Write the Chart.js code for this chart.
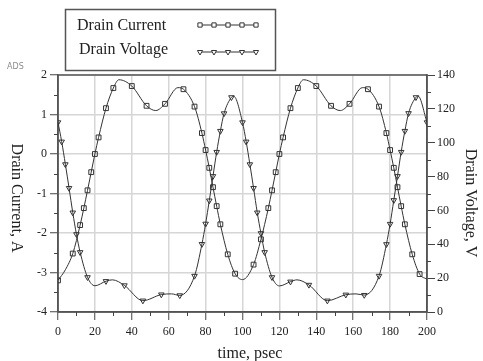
<!DOCTYPE html>
<html>
<head>
<meta charset="utf-8">
<title>Drain current and voltage</title>
<script src="https://cdn.jsdelivr.net/npm/chart.js@4.4.1/dist/chart.umd.min.js"></script>
<style>
  html, body { margin: 0; padding: 0; background: #fff; }
  #wrap { position: relative; width: 483px; height: 361px; }
</style>
</head>
<body>
<div id="wrap"><canvas id="waveChart" width="483" height="361"></canvas></div>
<script>
// Drain current (A) vs time (psec); curMarked = 1 where the simulator put a marker
const curTimes  = [0, 4, 8, 12, 14, 16, 18, 20, 22, 26, 30, 33, 40, 48, 53, 58, 65, 68, 74, 78, 80, 82, 84, 86, 88, 92, 96, 100,
                   106, 110, 114, 116, 118, 120, 122, 126, 130, 133, 140, 148, 153, 158, 165, 168, 174, 178, 180, 182, 184, 186, 188, 192, 196, 200];
const curAmps   = [-3.20, -2.93, -2.52, -1.80, -1.37, -0.92, -0.46, 0.00, 0.42, 1.16, 1.67, 1.88, 1.72, 1.22, 1.10, 1.27, 1.68, 1.64, 1.20, 0.53, 0.10, -0.35, -0.84, -1.32, -1.78, -2.54, -3.03, -3.18,
                   -2.80, -2.16, -1.37, -0.92, -0.46, 0.00, 0.42, 1.16, 1.67, 1.88, 1.72, 1.22, 1.10, 1.27, 1.68, 1.64, 1.20, 0.53, 0.10, -0.35, -0.84, -1.32, -1.78, -2.54, -3.04, -3.17];
const curMarked = [1, 0, 1, 1, 1, 1, 1, 1, 1, 1, 1, 0, 1, 1, 0, 1, 0, 1, 1, 1, 1, 1, 1, 1, 1, 1, 1, 0,
                   1, 1, 1, 1, 1, 1, 1, 1, 1, 0, 1, 1, 0, 1, 0, 1, 1, 1, 1, 1, 1, 1, 1, 1, 1, 0];

// Drain voltage (V) vs time (psec)
const voltTimes  = [0, 2, 4, 6, 8, 10, 12, 16, 20, 26, 29.5, 36, 46, 56, 61.5, 66, 74, 78, 80, 82, 84, 86, 88, 90, 94, 95.2,
                    100, 102, 104, 106, 108, 110, 112, 116, 120, 126, 129.5, 136, 146, 156, 161.5, 166, 174, 178, 180, 182, 184, 186, 188, 190, 194, 195.2, 200];
const voltValues = [112, 100.6, 87.2, 73.2, 58.7, 45.9, 35.3, 20.5, 15.5, 18.2, 19.0, 15.7, 6.7, 10.3, 10.7, 9.8, 21.3, 40.1, 52.1, 65.8, 80.2, 94.5, 106.9, 117.3, 126.8, 127.5,
                    112, 100.6, 87.2, 73.2, 58.7, 46.5, 35.3, 20.5, 15.4, 17.9, 19.0, 16.0, 6.7, 10.2, 10.7, 10.0, 21.3, 40.0, 52.0, 66.0, 80.2, 94.5, 106.9, 117.4, 126.8, 127.5, 112];
const voltMarked = [1, 1, 1, 1, 1, 1, 1, 1, 0, 1, 0, 1, 1, 1, 0, 1, 1, 1, 1, 1, 1, 1, 1, 1, 1, 0,
                    1, 1, 1, 1, 1, 1, 1, 1, 0, 1, 0, 1, 1, 1, 0, 1, 1, 1, 1, 1, 1, 1, 1, 1, 1, 0, 1];

// Axes
const timeRange = [0, 200];
const curRange  = [-4, 2];
const voltRange = [0, 140];

const legendItems = [
  { label: 'Drain Current', style: 'rect', rotation: 0 },
  { label: 'Drain Voltage', style: 'triangle', rotation: 180 }
];

const SERIF = '"Liberation Serif", "DejaVu Serif", serif';
const INK = '#333';

function toPoints(xs, ys) {
  return xs.map((x, i) => ({ x: x, y: ys[i] }));
}

// Frame, minor ticks, axis titles, legend box
const decor = {
  id: 'decor',
  beforeDatasetsDraw(chart) {
    const ctx = chart.ctx;
    const a = chart.chartArea;
    const sx = chart.scales.x, sy = chart.scales.y, sv = chart.scales.y1;
    ctx.save();
    ctx.strokeStyle = '#555';
    ctx.lineWidth = 1.5;
    ctx.strokeRect(a.left, a.top, a.right - a.left, a.bottom - a.top);

    ctx.lineWidth = 1;
    ctx.strokeStyle = '#444';
    ctx.beginPath();
    for (let t = 10; t < 200; t += 20) {
      const px = Math.round(sx.getPixelForValue(t)) + 0.5;
      ctx.moveTo(px, a.bottom); ctx.lineTo(px, a.bottom + 4);
    }
    for (let v = -3.5; v < 2; v += 1) {
      const py = Math.round(sy.getPixelForValue(v)) + 0.5;
      ctx.moveTo(a.left - 4, py); ctx.lineTo(a.left, py);
    }
    for (let v = 10; v < 140; v += 20) {
      const py = Math.round(sv.getPixelForValue(v)) + 0.5;
      ctx.moveTo(a.right, py); ctx.lineTo(a.right + 4, py);
    }
    ctx.stroke();
    ctx.restore();
  },
  afterDraw(chart) {
    const ctx = chart.ctx;
    const H = Chart.helpers;
    ctx.save();
    ctx.fillStyle = '#222';

    // axis titles
    ctx.font = '16px ' + SERIF;
    ctx.textAlign = 'center';
    ctx.textBaseline = 'alphabetic';
    ctx.fillText('time, psec', 250, 358);

    ctx.textBaseline = 'middle';
    ctx.save();
    ctx.translate(16, 198);
    ctx.rotate(Math.PI / 2);
    ctx.fillText('Drain Current, A', 0, 0);
    ctx.restore();

    ctx.save();
    ctx.translate(470, 203);
    ctx.rotate(Math.PI / 2);
    ctx.fillText('Drain Voltage, V', 0, 0);
    ctx.restore();

    // small tool tag
    ctx.font = '8px "DejaVu Sans", sans-serif';
    ctx.fillStyle = '#8c8c8c';
    ctx.textAlign = 'left';
    ctx.fillText('ADS', 7, 67);

    // legend box
    ctx.strokeStyle = '#555';
    ctx.lineWidth = 1.5;
    ctx.strokeRect(65.5, 9.5, 210, 61);

    ctx.font = '16px ' + SERIF;
    ctx.textBaseline = 'alphabetic';
    legendItems.forEach((item, i) => {
      const ty = 30 + i * 24;
      const my = 25 + i * 27;
      ctx.fillStyle = '#222';
      ctx.fillText(item.label, 77 + i * 2, ty);
      ctx.strokeStyle = INK;
      ctx.lineWidth = 1;
      ctx.beginPath();
      ctx.moveTo(198, my); ctx.lineTo(256, my);
      ctx.stroke();
      // hollow markers: white fill hides the line inside them
      ctx.fillStyle = '#fff';
      for (let k = 0; k < 5; k++) {
        H.drawPoint(ctx, {
          pointStyle: item.style, radius: 3, rotation: item.rotation, borderWidth: 1
        }, 200 + k * 14, my);
      }
    });
    ctx.restore();
  }
};

new Chart(document.getElementById('waveChart'), {
  type: 'line',
  data: {
    datasets: [
      {
        label: 'Drain Current',
        yAxisID: 'y',
        data: toPoints(curTimes, curAmps),
        borderColor: INK,
        borderWidth: 1,
        cubicInterpolationMode: 'monotone',
        pointStyle: 'rect',
        pointRadius: c => curMarked[c.dataIndex] ? 3.4 : 0,
        pointBorderColor: INK,
        pointBackgroundColor: 'rgba(0,0,0,0)',
        pointBorderWidth: 1
      },
      {
        label: 'Drain Voltage',
        yAxisID: 'y1',
        data: toPoints(voltTimes, voltValues),
        borderColor: INK,
        borderWidth: 1,
        cubicInterpolationMode: 'monotone',
        pointStyle: 'triangle',
        pointRotation: 180,
        pointRadius: c => voltMarked[c.dataIndex] ? 3.2 : 0,
        pointBorderColor: INK,
        pointBackgroundColor: 'rgba(0,0,0,0)',
        pointBorderWidth: 1
      }
    ]
  },
  options: {
    responsive: false,
    animation: false,
    layout: { padding: { top: 75, left: 0, right: 0, bottom: 0 } },
    plugins: { legend: { display: false }, tooltip: { enabled: false } },
    scales: {
      x: {
        type: 'linear',
        min: timeRange[0], max: timeRange[1],
        afterFit: s => { s.height = 49; },
        ticks: { stepSize: 20, padding: 5, color: '#222', font: { family: SERIF, size: 12 }, maxRotation: 0 },
        grid: { color: '#d6d6d6', lineWidth: 1.5, tickColor: '#444', tickLength: 8, tickWidth: 1 },
        border: { display: true, color: '#555', width: 1.5 }
      },
      y: {
        position: 'left',
        min: curRange[0], max: curRange[1],
        afterFit: s => { s.width = 58; },
        ticks: { stepSize: 1, padding: 3, color: '#222', font: { family: SERIF, size: 12 } },
        grid: { color: '#d6d6d6', lineWidth: 1.5, tickColor: '#444', tickLength: 8, tickWidth: 1 },
        border: { display: true, color: '#555', width: 1.5 }
      },
      y1: {
        position: 'right',
        min: voltRange[0], max: voltRange[1],
        afterFit: s => { s.width = 56; },
        ticks: { stepSize: 20, padding: 2, color: '#222', font: { family: SERIF, size: 12 } },
        grid: { drawOnChartArea: false, tickColor: '#444', tickLength: 8, tickWidth: 1 },
        border: { display: true, color: '#555', width: 1.5 }
      }
    }
  },
  plugins: [decor]
});
</script>
</body>
</html>
